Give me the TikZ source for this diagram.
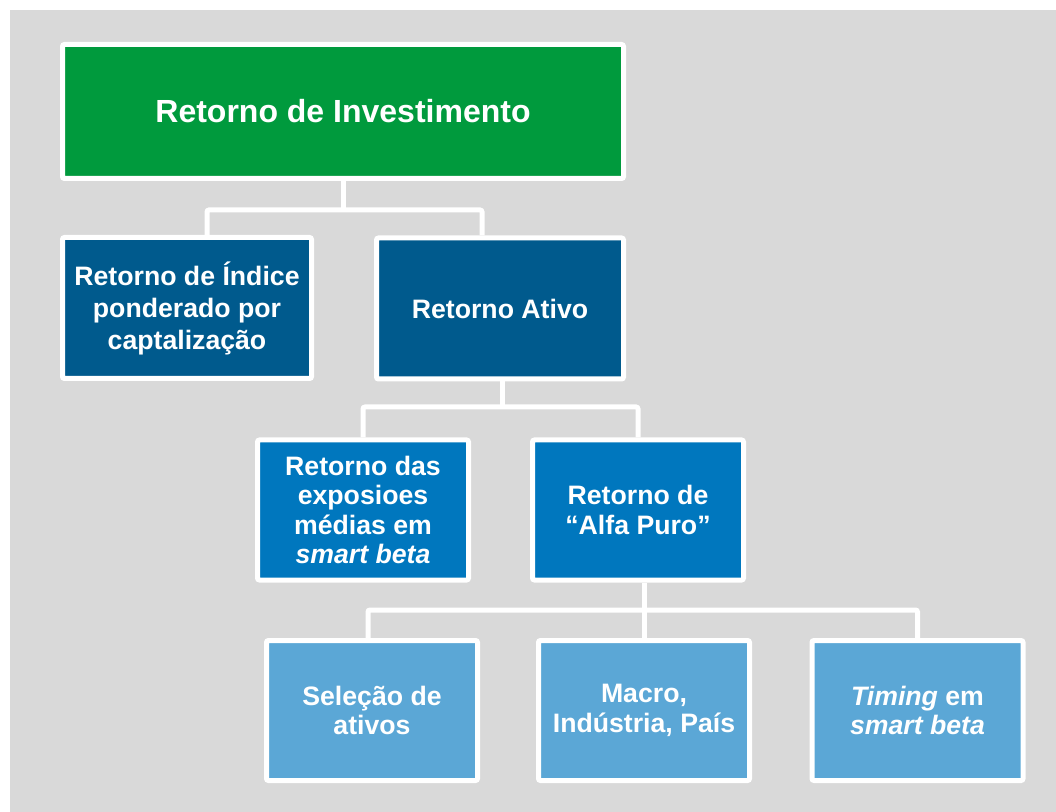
\documentclass[tikz,border=0pt]{standalone}
\usepackage{fontspec}
\setmainfont{Liberation Sans}
\definecolor{topgreen}{RGB}{0,154,61}
\definecolor{darkblue}{RGB}{0,90,141}
\definecolor{midblue}{RGB}{0,119,190}
\definecolor{lightblue}{RGB}{91,167,214}
\definecolor{bggray}{RGB}{217,217,217}
\tikzset{
  box/.style={draw=white, line width=3.75pt, rounded corners=1.5pt, text=white,
    font=\bfseries\fontsize{20}{22}\selectfont, align=center, inner sep=0pt},
  lowbox/.style={box, minimum width=158.25pt, minimum height=105pt},
  link/.style={draw=white, line width=3.75pt, rounded corners=1.5pt},
}

\begin{document}
\begin{tikzpicture}[x=0.75pt, y=-0.75pt]
    \fill[white] (0,0) rectangle (1056,812);
    \useasboundingbox (0,0) rectangle (1056,812);
    \fill[bggray] (10,10) rectangle (1056,812);

    % top
    \node[box, fill=topgreen, minimum width=420.75pt, minimum height=100.5pt,
      font=\bfseries\fontsize{24}{28}\selectfont] (invest) at (343,111.5) {Retorno de Investimento};

    % second row
    \node[box, fill=darkblue, minimum width=186.75pt, minimum height=105.75pt,
      font=\bfseries\fontsize{20}{24}\selectfont] (indice) at (187,308) {Retorno de Índice\\ponderado por\\captalização};
    \node[box, fill=darkblue, minimum width=185.25pt, minimum height=105.75pt] (ativo) at (500,308.5) {Retorno Ativo};

    % third row
    \node[lowbox, fill=midblue] (expo) at (363,510) {Retorno das\\exposioes\\médias em\\\textit{smart beta}};
    \node[lowbox, fill=midblue] (alfa) at (638,510) {Retorno de\\“Alfa Puro”};

    % bottom row
    \node[lowbox, fill=lightblue] (selecao) at (372,710.5) {Seleção de\\ativos};
    \node[lowbox, fill=lightblue] (macro) at (644,710.5) {Macro,\\Indústria, País};
    \node[lowbox, fill=lightblue] (timing) at (917.5,710.5) {\textit{Timing} em\\\textit{smart beta}};

    % connectors
    \coordinate (j1) at (343,210);
    \draw[link] (invest.south) -- (j1);
    \draw[link] ([xshift=15pt]indice.north) |- (j1) -| ([xshift=-13.5pt]ativo.north);

    \coordinate (j2) at (502,407);
    \draw[link] (ativo.south -| j2) -- (j2);
    \draw[link] (expo.north) |- (j2) -| (alfa.north);

    \coordinate (j3) at (macro.north |- 0,610);
    \draw[link] (macro.north) -- (macro.north |- alfa.south);
    \draw[link] ([xshift=-3pt]selecao.north) |- (j3) -| (timing.north);
\end{tikzpicture}
\end{document}
